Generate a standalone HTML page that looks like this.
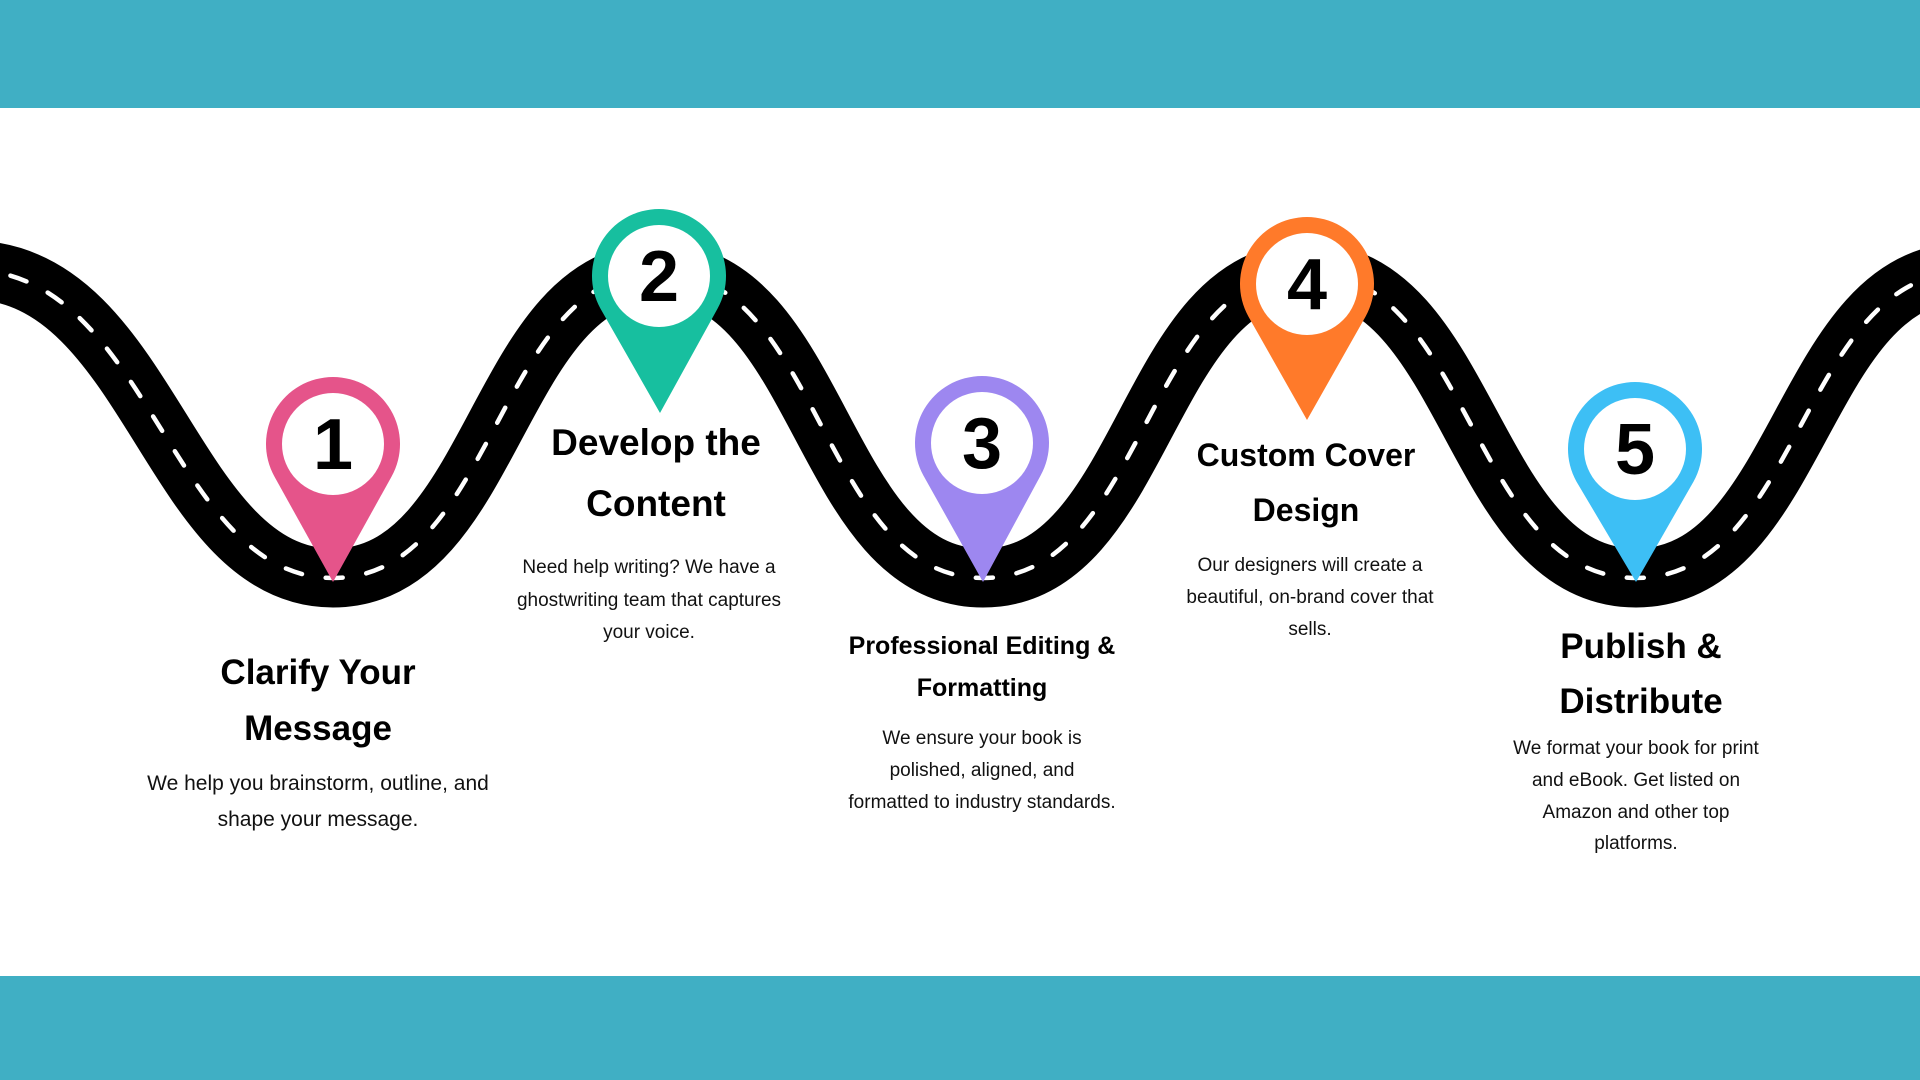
<!DOCTYPE html>
<html><head><meta charset="utf-8"><style>
html,body{margin:0;padding:0;background:#fff;}
svg{display:block}
.t{font-family:"Liberation Sans",sans-serif;font-weight:bold;fill:#000;text-anchor:middle}
.d{font-family:"Liberation Sans",sans-serif;fill:#111;text-anchor:middle}
.n{font-family:"Liberation Sans",sans-serif;font-weight:900;fill:#000;text-anchor:middle;font-size:72px}
</style></head><body>
<svg width="1920" height="1080" viewBox="0 0 1920 1080" xmlns="http://www.w3.org/2000/svg">
<rect x="0" y="0" width="1920" height="108" fill="#40AFC4"/>
<rect x="0" y="976" width="1920" height="104" fill="#40AFC4"/>
<path d="M -30 270 C 150 270 170 578 333 578 C 496 578 496 272 659 272 C 821 272 821 578 983 578 C 1145 578 1145 272 1307 272 C 1471 272 1471 578 1636 578 C 1801 578 1801 272 1966 272" fill="none" stroke="#000" stroke-width="59"/>
<path d="M -30 270 C 150 270 170 578 333 578 C 496 578 496 272 659 272 C 821 272 821 578 983 578 C 1145 578 1145 272 1307 272 C 1471 272 1471 578 1636 578 C 1801 578 1801 272 1966 272" fill="none" stroke="#fff" stroke-width="4.5" stroke-dasharray="17 24" stroke-linecap="round"/>

<g>
<path d="M333 582 L274.4 476.5 A67 67 0 1 1 391.6 476.5 Z" fill="#E5548A"/>
<circle cx="333" cy="444" r="51" fill="#fff"/>
<text class="n" x="333" y="469">1</text>
</g>
<g>
<path d="M660 413 L600.4 308.5 A67 67 0 1 1 717.6 308.5 Z" fill="#17BF9F"/>
<circle cx="659" cy="276" r="51" fill="#fff"/>
<text class="n" x="659" y="301">2</text>
</g>
<g>
<path d="M983 582 L923.4 475.5 A67 67 0 1 1 1040.6 475.5 Z" fill="#9D87F0"/>
<circle cx="982" cy="443" r="51" fill="#fff"/>
<text class="n" x="982" y="468">3</text>
</g>
<g>
<path d="M1307 420 L1248.4 316.5 A67 67 0 1 1 1365.6 316.5 Z" fill="#FF7A2A"/>
<circle cx="1307" cy="284" r="51" fill="#fff"/>
<text class="n" x="1307" y="309">4</text>
</g>
<g>
<path d="M1636 582 L1576.4 481.5 A67 67 0 1 1 1693.6 481.5 Z" fill="#3DBFF5"/>
<circle cx="1635" cy="449" r="51" fill="#fff"/>
<text class="n" x="1635" y="474">5</text>
</g>

<text class="t" x="318" y="684" font-size="35">Clarify Your</text>
<text class="t" x="318" y="740" font-size="35">Message</text>
<text class="d" x="318" y="790" font-size="21">We help you brainstorm, outline, and</text>
<text class="d" x="318" y="826" font-size="21">shape your message.</text>

<text class="t" x="656" y="455" font-size="37">Develop the</text>
<text class="t" x="656" y="516" font-size="37">Content</text>
<text class="d" x="649" y="573" font-size="19">Need help writing? We have a</text>
<text class="d" x="649" y="606" font-size="19">ghostwriting team that captures</text>
<text class="d" x="649" y="638" font-size="19">your voice.</text>

<text class="t" x="982" y="654" font-size="25">Professional Editing &amp;</text>
<text class="t" x="982" y="696" font-size="25">Formatting</text>
<text class="d" x="982" y="744" font-size="19">We ensure your book is</text>
<text class="d" x="982" y="776" font-size="19">polished, aligned, and</text>
<text class="d" x="982" y="808" font-size="19">formatted to industry standards.</text>

<text class="t" x="1306" y="466" font-size="32">Custom Cover</text>
<text class="t" x="1306" y="521" font-size="32">Design</text>
<text class="d" x="1310" y="571" font-size="19">Our designers will create a</text>
<text class="d" x="1310" y="603" font-size="19">beautiful, on-brand cover that</text>
<text class="d" x="1310" y="635" font-size="19">sells.</text>

<text class="t" x="1641" y="658" font-size="35">Publish &amp;</text>
<text class="t" x="1641" y="713" font-size="35">Distribute</text>
<text class="d" x="1636" y="754" font-size="19">We format your book for print</text>
<text class="d" x="1636" y="786" font-size="19">and eBook. Get listed on</text>
<text class="d" x="1636" y="818" font-size="19">Amazon and other top</text>
<text class="d" x="1636" y="849" font-size="19">platforms.</text>
</svg>
</body></html>
